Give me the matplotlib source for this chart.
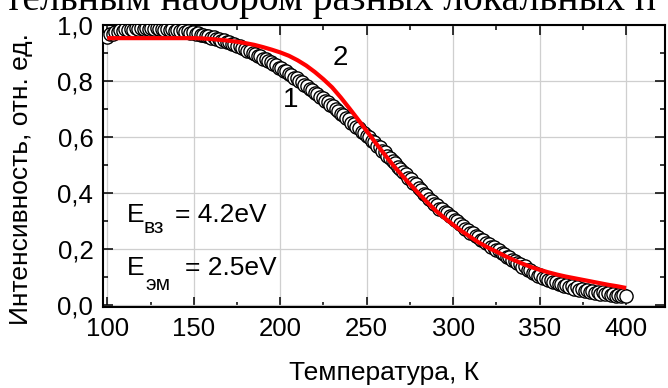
import matplotlib
matplotlib.use("Agg")
import matplotlib.pyplot as plt
from matplotlib.ticker import MultipleLocator, FuncFormatter

plt.rcParams['font.family'] = ['Liberation Sans', 'DejaVu Sans']

# Curve 1: measured intensity vs temperature
temp_meas = [
    100, 101.5, 103, 104.5, 106, 107.5, 109, 110.5, 112, 113.5,
    115, 116.5, 118, 119.5, 121, 122.5, 124, 125.5, 127, 128.5,
    130, 131.5, 133, 134.5, 136, 137.5, 139, 140.5, 142, 143.5,
    145, 146.5, 148, 149.5, 151, 152.5, 154, 155.5, 157, 158.5,
    160, 161.5, 163, 164.5, 166, 167.5, 169, 170.5, 172, 173.5,
    175, 176.5, 178, 179.5, 181, 182.5, 184, 185.5, 187, 188.5,
    190, 191.5, 193, 194.5, 196, 197.5, 199, 200.5, 202, 203.5,
    205, 206.5, 208, 209.5, 211, 212.5, 214, 215.5, 217, 218.5,
    220, 221.5, 223, 224.5, 226, 227.5, 229, 230.5, 232, 233.5,
    235, 236.5, 238, 239.5, 241, 242.5, 244, 245.5, 247, 248.5,
    250, 251.5, 253, 254.5, 256, 257.5, 259, 260.5, 262, 263.5,
    265, 266.5, 268, 269.5, 271, 272.5, 274, 275.5, 277, 278.5,
    280, 281.5, 283, 284.5, 286, 287.5, 289, 290.5, 292, 293.5,
    295, 296.5, 298, 299.5, 301, 302.5, 304, 305.5, 307, 308.5,
    310, 311.5, 313, 314.5, 316, 317.5, 319, 320.5, 322, 323.5,
    325, 326.5, 328, 329.5, 331, 332.5, 334, 335.5, 337, 338.5,
    340, 341.5, 343, 344.5, 346, 347.5, 349, 350.5, 352, 353.5,
    355, 356.5, 358, 359.5, 361, 362.5, 364, 365.5, 367, 368.5,
    370, 371.5, 373, 374.5, 376, 377.5, 379, 380.5, 382, 383.5,
    385, 386.5, 388, 389.5, 391, 392.5, 394, 395.5, 397, 398.5,
    400,
]
int_meas = [
    0.958, 0.967, 0.968, 0.976, 0.975, 0.981, 0.979, 0.984, 0.981, 0.986,
    0.983, 0.988, 0.984, 0.989, 0.985, 0.989, 0.985, 0.988, 0.984, 0.988,
    0.984, 0.987, 0.983, 0.986, 0.982, 0.985, 0.980, 0.983, 0.978, 0.981,
    0.976, 0.978, 0.972, 0.974, 0.969, 0.970, 0.964, 0.966, 0.960, 0.961,
    0.955, 0.956, 0.950, 0.951, 0.944, 0.945, 0.938, 0.939, 0.932, 0.932,
    0.925, 0.925, 0.917, 0.916, 0.908, 0.908, 0.899, 0.898, 0.890, 0.889,
    0.880, 0.879, 0.870, 0.869, 0.859, 0.857, 0.847, 0.845, 0.835, 0.834,
    0.824, 0.822, 0.811, 0.809, 0.799, 0.796, 0.785, 0.783, 0.772, 0.769,
    0.758, 0.755, 0.743, 0.740, 0.728, 0.725, 0.713, 0.709, 0.698, 0.694,
    0.682, 0.678, 0.666, 0.663, 0.651, 0.647, 0.635, 0.631, 0.619, 0.615,
    0.603, 0.598, 0.586, 0.581, 0.568, 0.563, 0.550, 0.545, 0.532, 0.526,
    0.513, 0.507, 0.493, 0.487, 0.474, 0.468, 0.454, 0.449, 0.435, 0.430,
    0.416, 0.410, 0.397, 0.391, 0.378, 0.372, 0.359, 0.355, 0.344, 0.342,
    0.331, 0.328, 0.317, 0.314, 0.303, 0.299, 0.287, 0.283, 0.272, 0.269,
    0.258, 0.255, 0.245, 0.242, 0.232, 0.230, 0.220, 0.218, 0.208, 0.206,
    0.196, 0.194, 0.184, 0.182, 0.172, 0.170, 0.160, 0.158, 0.148, 0.146,
    0.136, 0.137, 0.124, 0.125, 0.114, 0.114, 0.103, 0.105, 0.095, 0.097,
    0.087, 0.089, 0.080, 0.082, 0.073, 0.076, 0.068, 0.071, 0.063, 0.066,
    0.058, 0.062, 0.054, 0.058, 0.050, 0.054, 0.046, 0.050, 0.043, 0.047,
    0.040, 0.044, 0.037, 0.041, 0.034, 0.039, 0.032, 0.036, 0.030, 0.034,
    0.030,
]

# Curve 2: calculated intensity
temp_calc = [
    100, 110, 120, 130, 140, 150, 155, 160, 165, 170, 175, 180, 185, 190,
    195, 200, 205, 210, 215, 220, 225, 230, 235, 240, 245, 250, 255, 260,
    265, 270, 275, 280, 285, 290, 295, 300, 305, 310, 315, 320, 325, 330,
    335, 340, 345, 350, 355, 360, 365, 370, 375, 380, 385, 390, 395, 400,
]
int_calc = [
    0.953, 0.953, 0.953, 0.953, 0.953, 0.953, 0.952, 0.950, 0.947, 0.944,
    0.940, 0.935, 0.929, 0.921, 0.912, 0.902, 0.890, 0.874, 0.855, 0.832,
    0.806, 0.777, 0.741, 0.702, 0.662, 0.621, 0.580, 0.540, 0.501, 0.465,
    0.431, 0.398, 0.366, 0.336, 0.310, 0.286, 0.263, 0.242, 0.222, 0.205,
    0.190, 0.174, 0.160, 0.147, 0.135, 0.125, 0.116, 0.108, 0.101, 0.095,
    0.089, 0.083, 0.077, 0.071, 0.066, 0.060,
]

x_ticks = [100, 150, 200, 250, 300, 350, 400]
y_ticks = [0.0, 0.2, 0.4, 0.6, 0.8, 1.0]

fig = plt.figure(figsize=(6.68, 3.88), dpi=100)
ax = fig.add_axes([103 / 668, 1 - 307 / 388, 562 / 668, 282 / 388])

ax.plot(temp_meas, int_meas, linestyle='none', marker='o', markersize=9.5,
        markerfacecolor='white', markeredgecolor='black', markeredgewidth=1.0,
        zorder=3)
ax.plot(temp_calc, int_calc, color='#ff0000', linewidth=3.0, zorder=4,
        solid_capstyle='butt')

ax.set_xlim(97.5, 422.5)
ax.set_ylim(-0.008, 1.0)
ax.set_xticks(x_ticks)
ax.set_yticks(y_ticks)
ax.xaxis.set_minor_locator(MultipleLocator(25))
ax.yaxis.set_minor_locator(MultipleLocator(0.1))
ax.yaxis.set_major_formatter(FuncFormatter(lambda v, p: f"{v:.1f}".replace('.', ',')))

ax.grid(True, which='major', color='#cfcfcf', linewidth=0.9, zorder=0)
ax.set_axisbelow(True)

for s in ax.spines.values():
    s.set_linewidth(1.5)
ax.tick_params(which='both', direction='in', top=True, right=True,
               width=1.1, colors='black')
ax.tick_params(which='major', length=7, labelsize=18.5, pad=7)
ax.tick_params(which='minor', length=3.5)

ax.set_xlabel('Температура, К', fontsize=19)
ax.set_ylabel('Интенсивность, отн. ед.', fontsize=19)
ax.xaxis.set_label_coords(0.5, -0.19)
ax.yaxis.label.set_verticalalignment('center')
ax.yaxis.set_label_coords(-0.146, 0.454)

ax.text(205.8, 0.732, '1', fontsize=20, ha='center', va='center', zorder=5)
ax.text(234.7, 0.882, '2', fontsize=20, ha='center', va='center', zorder=5)

big, small = 19, 15
ax.text(0.0427, 0.301, 'E', transform=ax.transAxes, fontsize=big, va='baseline')
ax.text(0.0712, 0.262, 'вз', transform=ax.transAxes, fontsize=small, va='baseline')
ax.text(0.1281, 0.301, '= 4.2eV', transform=ax.transAxes, fontsize=big, va='baseline')
ax.text(0.0427, 0.113, 'E', transform=ax.transAxes, fontsize=big, va='baseline')
ax.text(0.0747, 0.060, 'эм', transform=ax.transAxes, fontsize=small, va='baseline')
ax.text(0.1459, 0.113, '= 2.5eV', transform=ax.transAxes, fontsize=big, va='baseline')

# Running text of the page above the figure
fig.text(5 / 668, 1 - 10 / 388, 'тельным набором разных локальных п',
         family='Liberation Serif', fontsize=28.5, va='baseline', ha='left')

fig.savefig('out.png', dpi=100)
